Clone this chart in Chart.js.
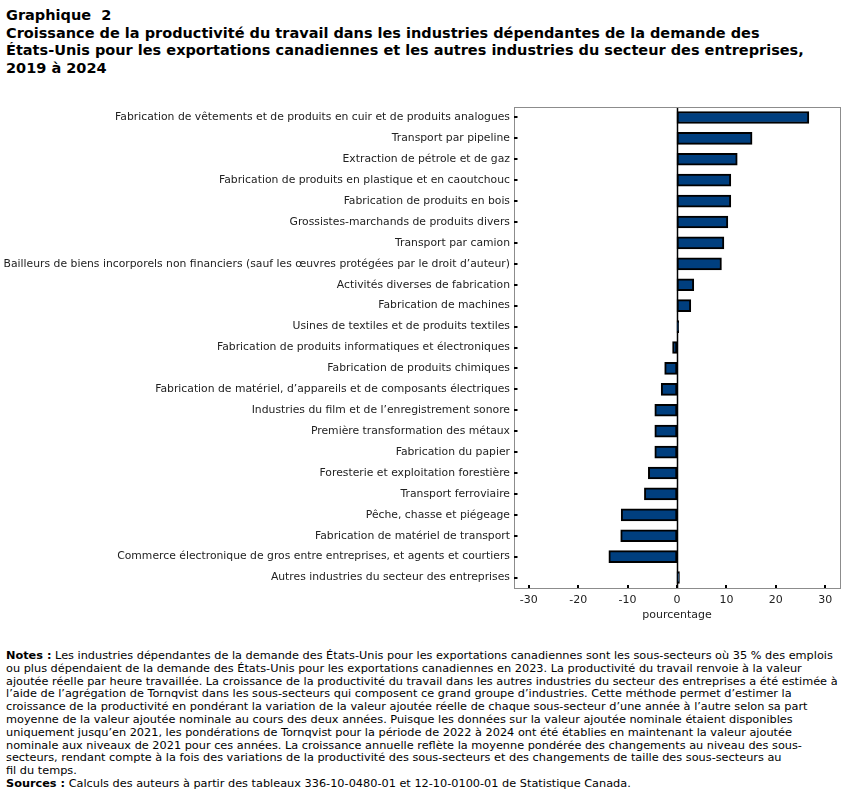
<!DOCTYPE html>
<html lang="fr">
<head>
<meta charset="utf-8">
<script src="https://cdn.jsdelivr.net/npm/chart.js@4.4.1/dist/chart.umd.min.js"></script>
<style>
  html, body { margin: 0; padding: 0; background: #fff; }
  body { width: 851px; height: 794px; position: relative; overflow: hidden; font-family: "DejaVu Sans", Verdana, sans-serif; color: #000; }
  #title { position: absolute; left: 6px; top: 7px; font-weight: bold; font-size: 14.5px; line-height: 17.7px; white-space: pre; }
  #chartBox { position: absolute; left: 0; top: 0; width: 851px; height: 622px; }
  #notes { position: absolute; left: 6px; top: 650px; font-size: 11.3px; line-height: 12.8px; white-space: pre; color: #000; }
</style>
</head>
<body>
<div id="title">Graphique  2
Croissance de la productivité du travail dans les industries dépendantes de la demande des
États-Unis pour les exportations canadiennes et les autres industries du secteur des entreprises,
2019 à 2024</div>
<div id="chartBox"><canvas id="c" width="851" height="622"></canvas></div>
<div id="notes"><b>Notes :</b> Les industries dépendantes de la demande des États-Unis pour les exportations canadiennes sont les sous-secteurs où 35 % des emplois
ou plus dépendaient de la demande des États-Unis pour les exportations canadiennes en 2023. La productivité du travail renvoie à la valeur
ajoutée réelle par heure travaillée. La croissance de la productivité du travail dans les autres industries du secteur des entreprises a été estimée à
l’aide de l’agrégation de Tornqvist dans les sous-secteurs qui composent ce grand groupe d’industries. Cette méthode permet d’estimer la
croissance de la productivité en pondérant la variation de la valeur ajoutée réelle de chaque sous-secteur d’une année à l’autre selon sa part
moyenne de la valeur ajoutée nominale au cours des deux années. Puisque les données sur la valeur ajoutée nominale étaient disponibles
uniquement jusqu’en 2021, les pondérations de Tornqvist pour la période de 2022 à 2024 ont été établies en maintenant la valeur ajoutée
nominale aux niveaux de 2021 pour ces années. La croissance annuelle reflète la moyenne pondérée des changements au niveau des sous-
secteurs, rendant compte à la fois des variations de la productivité des sous-secteurs et des changements de taille des sous-secteurs au
fil du temps.
<b>Sources :</b> Calculs des auteurs à partir des tableaux 336-10-0480-01 et 12-10-0100-01 de Statistique Canada.</div>
<script>
const categories = [
  "Fabrication de vêtements et de produits en cuir et de produits analogues",
  "Transport par pipeline",
  "Extraction de pétrole et de gaz",
  "Fabrication de produits en plastique et en caoutchouc",
  "Fabrication de produits en bois",
  "Grossistes-marchands de produits divers",
  "Transport par camion",
  "Bailleurs de biens incorporels non financiers (sauf les œuvres protégées par le droit d’auteur)",
  "Activités diverses de fabrication",
  "Fabrication de machines",
  "Usines de textiles et de produits textiles",
  "Fabrication de produits informatiques et électroniques",
  "Fabrication de produits chimiques",
  "Fabrication de matériel, d’appareils et de composants électriques",
  "Industries du film et de l’enregistrement sonore",
  "Première transformation des métaux",
  "Fabrication du papier",
  "Foresterie et exploitation forestière",
  "Transport ferroviaire",
  "Pêche, chasse et piégeage",
  "Fabrication de matériel de transport",
  "Commerce électronique de gros entre entreprises, et agents et courtiers",
  "Autres industries du secteur des entreprises"
];
const growth = [26.7, 15.2, 12.2, 10.9, 10.9, 10.3, 9.5, 9.0, 3.4, 2.8, 0.35, -0.9, -2.5, -3.2, -4.5, -4.5, -4.5, -5.8, -6.6, -11.3, -11.4, -13.8, 0.5];
const xTickValues = [-30, -20, -10, 0, 10, 20, 30];
const xAxisTitle = "pourcentage";

const FONT = "'DejaVu Sans', Verdana, sans-serif";

const framePlugin = {
  id: 'frame',
  beforeDatasetsDraw(chart) {
    const ctx = chart.ctx, a = chart.chartArea, xs = chart.scales.x;
    const x0 = Math.round(xs.getPixelForValue(0)) + 0.5;
    ctx.save();
    ctx.strokeStyle = '#000';
    ctx.lineWidth = 1.5;
    ctx.beginPath();
    ctx.moveTo(x0, a.top);
    ctx.lineTo(x0, a.bottom);
    ctx.stroke();
    ctx.restore();
  },
  afterDraw(chart) {
    const ctx = chart.ctx, a = chart.chartArea, xs = chart.scales.x, ys = chart.scales.y;
    ctx.save();
    ctx.strokeStyle = '#8c8c8c';
    ctx.lineWidth = 1;
    ctx.strokeRect(Math.round(a.left) + 0.5, Math.round(a.top) + 0.5, Math.round(a.right - a.left), Math.round(a.bottom - a.top));
    ctx.strokeStyle = '#000';
    ctx.lineWidth = 2;
    xs.ticks.forEach(t => {
      const px = Math.round(xs.getPixelForValue(t.value));
      ctx.beginPath();
      ctx.moveTo(px, a.bottom);
      ctx.lineTo(px, a.bottom - 3);
      ctx.stroke();
    });
    ys.ticks.forEach((t, i) => {
      const py = Math.round(ys.getPixelForTick(i));
      ctx.beginPath();
      ctx.moveTo(a.left, py);
      ctx.lineTo(a.left + 3.5, py);
      ctx.stroke();
    });
    ctx.restore();
  }
};

new Chart(document.getElementById('c'), {
  type: 'bar',
  data: {
    labels: categories,
    datasets: [{
      data: growth,
      backgroundColor: '#003f7f',
      borderColor: '#000',
      borderWidth: 2,
      borderSkipped: false,
      barThickness: 12
    }]
  },
  options: {
    indexAxis: 'y',
    responsive: false,
    animation: false,
    devicePixelRatio: 1,
    layout: { padding: { top: 107, right: 11, left: 0, bottom: 0 } },
    plugins: { legend: { display: false }, tooltip: { enabled: false }, title: { display: false } },
    scales: {
      x: {
        type: 'linear',
        min: -33,
        max: 33,
        afterBuildTicks(scale) { scale.ticks = xTickValues.map(v => ({ value: v })); },
        afterFit(scale) { scale.height = 34; },
        ticks: { font: { family: FONT, size: 11 }, color: '#222', padding: 6, maxRotation: 0 },
        grid: { display: false, drawTicks: false },
        border: { display: false },
        title: { display: true, text: xAxisTitle, font: { family: FONT, size: 11 }, color: '#222', padding: { top: 0, bottom: 0 } }
      },
      y: {
        afterFit(scale) { scale.width = 514; },
        ticks: { font: { family: FONT, size: 10.8 }, color: '#222', padding: 4, autoSkip: false },
        grid: { display: false, drawTicks: false },
        border: { display: false }
      }
    }
  },
  plugins: [framePlugin]
});
</script>
</body>
</html>
